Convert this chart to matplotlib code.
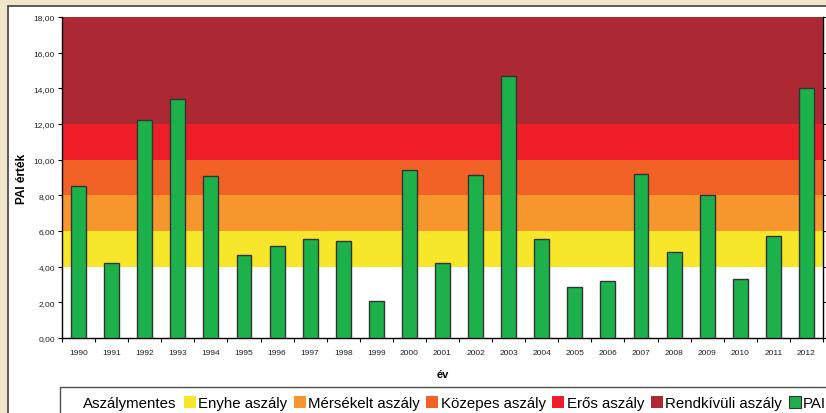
import matplotlib
matplotlib.use("Agg")
import matplotlib.pyplot as plt
from matplotlib.patches import Rectangle, Patch

plt.rcParams['font.family'] = ['Liberation Sans', 'DejaVu Sans']

# adatok
evek = [str(e) for e in range(1990, 2013)]
pai = [8.5, 4.2, 12.2, 13.4, 9.1, 4.65, 5.15, 5.55, 5.45, 2.1, 9.4, 4.2, 9.15,
       14.7, 5.55, 2.85, 3.2, 9.2, 4.8, 8.0, 3.3, 5.7, 14.0]

# kategoriak (savok)
kategoriak = ["Aszálymentes", "Enyhe aszály", "Mérsékelt aszály", "Közepes aszály",
              "Erős aszály", "Rendkívüli aszály"]
hatarok = [0, 4, 6, 8, 10, 12, 18]
szinek = ["#ffffff", "#f7e629", "#f7962d", "#f26126", "#ed1e27", "#ac2832"]
pai_szin = "#1db14b"

W, H = 826, 414
fig = plt.figure(figsize=(W / 100, H / 100), dpi=100, facecolor="#f2e6ca")

# feher panel kerettel
fig.patches.append(Rectangle((8 / W, -0.1), 1.0, 1 - 7 / H + 0.1, transform=fig.transFigure,
                             facecolor="white", edgecolor="#404040", linewidth=1.2, zorder=0))

ax = fig.add_axes([62 / W, (H - 339) / H, (823 - 62) / W, (339 - 18) / H])
ax.set_zorder(2)

for i in range(len(kategoriak)):
    ax.axhspan(hatarok[i], hatarok[i + 1], color=szinek[i], linewidth=0, zorder=0)

x = list(range(len(evek)))
ax.bar(x, pai, width=0.45, color=pai_szin, edgecolor="#333333", linewidth=1.0, zorder=3)

ax.set_xlim(-0.5, len(evek) - 0.5)
ax.set_ylim(0, 18)
ax.set_yticks(range(0, 19, 2))
ax.set_yticklabels(["%d,00" % v for v in range(0, 19, 2)], fontsize=6, color="#222222")
ax.set_xticks(x)
ax.set_xticklabels(evek, fontsize=6, color="#222222")
ax.set_xticks([i - 0.5 for i in range(len(evek) + 1)], minor=True)
ax.tick_params(axis="x", which="major", length=0, pad=8)
ax.tick_params(axis="x", which="minor", length=3, direction="out", width=0.8)
ax.tick_params(axis="y", length=3, width=0.8, pad=2)

ax.spines["top"].set_visible(False)
ax.spines["left"].set_linewidth(1.0)
ax.spines["bottom"].set_linewidth(1.0)
ax.spines["right"].set_linewidth(1.0)
ax.spines["right"].set_color("#333333")

ax2 = ax.twinx()
ax2.set_ylim(0, 18)
ax2.set_yticks(range(0, 19, 2))
ax2.set_yticklabels([])
ax2.tick_params(axis="y", length=3, width=0.8)
for s in ["top", "left", "bottom"]:
    ax2.spines[s].set_visible(False)

ax.set_ylabel("PAI érték", fontsize=8.5, fontweight="bold", labelpad=4)
ax.set_xlabel("év", fontsize=8, fontweight="bold", labelpad=9)

fogantyuk = [Patch(facecolor=szinek[i], edgecolor="none") for i in range(len(kategoriak))]
fogantyuk.append(Patch(facecolor=pai_szin, edgecolor="#333333", linewidth=0.8))
cimkek = kategoriak + ["PAI"]
leg = fig.legend(fogantyuk, cimkek, loc="upper left", bbox_to_anchor=(60 / W, (H - 388) / H),
                 ncol=7, fontsize=10.8, frameon=True, fancybox=False, handlelength=0.8,
                 handleheight=0.8, handletextpad=0.15, columnspacing=0.45, borderpad=0.6,
                 borderaxespad=0)
leg.get_frame().set_edgecolor("#222222")
leg.get_frame().set_linewidth(1.0)

fig.savefig("out.png", dpi=100, facecolor=fig.get_facecolor())
